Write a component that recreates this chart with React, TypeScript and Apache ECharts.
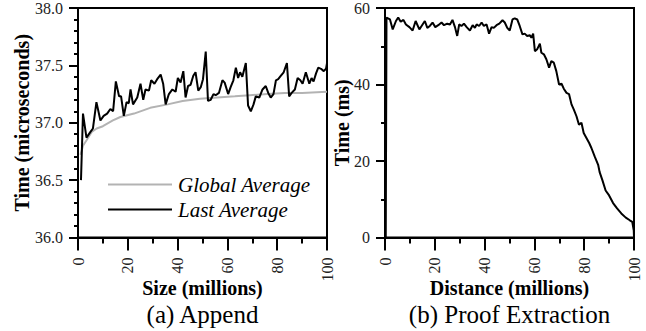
import React, { useEffect, useRef } from "react";
import * as echarts from "echarts";

const lastAvgX = [1.2, 2.0, 3.4, 5.0, 6.0, 7.4, 9.0, 10.3, 11.7, 13.0, 14.1, 15.2, 16.5, 17.3, 18.4, 19.5, 20.4, 21.1, 22.1, 23.8, 25.1, 26.2, 27.1, 28.5, 29.4, 30.7, 31.8, 33.2, 34.2, 35.2, 36.5, 37.9, 39.2, 40.1, 41.2, 42.3, 43.2, 44.2, 45.2, 46.3, 47.2, 48.3, 49.3, 50.2, 51.3, 52.2, 53.3, 54.4, 55.3, 56.6, 58.0, 58.9, 60.3, 61.3, 62.4, 63.4, 64.3, 65.1, 66.0, 67.4, 68.3, 69.4, 70.5, 71.4, 72.8, 74.1, 75.4, 76.4, 77.4, 78.5, 79.5, 80.4, 81.5, 82.6, 83.9, 84.8, 85.8, 87.1, 88.2, 89.3, 90.2, 91.5, 92.9, 93.8, 94.6, 95.6, 96.5, 97.6, 98.7, 99.6, 100];
const lastAvgY = [36.5, 37.08, 36.87, 36.92, 36.95, 37.18, 37.02, 37.06, 37.08, 37.12, 37.1, 37.36, 37.23, 37.23, 37.06, 37.18, 37.17, 37.29, 37.16, 37.22, 37.34, 37.2, 37.29, 37.28, 37.37, 37.34, 37.38, 37.42, 37.34, 37.16, 37.25, 37.29, 37.27, 37.39, 37.35, 37.45, 37.22, 37.32, 37.33, 37.41, 37.44, 37.28, 37.31, 37.38, 37.62, 37.19, 37.2, 37.25, 37.24, 37.26, 37.37, 37.35, 37.25, 37.31, 37.37, 37.48, 37.39, 37.44, 37.4, 37.52, 37.15, 37.1, 37.16, 37.23, 37.22, 37.29, 37.32, 37.26, 37.22, 37.25, 37.37, 37.38, 37.41, 37.44, 37.52, 37.23, 37.26, 37.29, 37.39, 37.37, 37.34, 37.44, 37.34, 37.39, 37.36, 37.43, 37.48, 37.47, 37.45, 37.47, 37.52];

const globalAvgX = [1.0, 2.0, 3.5, 5.5, 7.5, 10, 14, 17, 22.5, 29, 36, 42, 49, 56, 63, 69, 76, 83, 90, 100];
const globalAvgY = [36.72, 36.8, 36.85, 36.92, 36.95, 36.97, 37.02, 37.05, 37.08, 37.13, 37.16, 37.19, 37.21, 37.22, 37.23, 37.24, 37.25, 37.26, 37.26, 37.27];

const proofX = [0.3, 0.6, 2.0, 3.1, 4.4, 5.3, 6.3, 7.4, 8.4, 9.8, 11.1, 12.3, 13.8, 14.7, 16.0, 17.0, 18.0, 19.1, 20.2, 21.4, 22.7, 23.7, 25.0, 26.1, 27.1, 28.1, 29.0, 29.8, 30.7, 31.7, 32.8, 34.1, 35.2, 36.1, 36.8, 37.8, 38.8, 39.7, 40.8, 41.8, 42.8, 43.7, 44.8, 45.9, 47.2, 48.1, 49.1, 50.1, 51.2, 52.1, 53.1, 54.1, 55.2, 56.1, 57.1, 58.2, 58.8, 59.5, 60.2, 61.1, 62.2, 62.8, 63.8, 64.8, 65.9, 66.8, 67.8, 68.8, 69.9, 70.9, 71.8, 72.9, 73.9, 74.9, 75.8, 76.9, 77.9, 78.9, 79.8, 80.9, 82.0, 82.9, 84.2, 85.6, 86.2, 87.3, 88.6, 90.0, 91.6, 93.2, 94.9, 96.7, 98.3, 99.3, 99.9, 100];
const proofY = [0, 57.5, 57, 54.4, 56.6, 57.5, 56.4, 56.9, 55.7, 55, 54.1, 56.6, 54.4, 55.3, 56.6, 54.8, 55.3, 56.2, 55, 55.5, 56.2, 55.5, 55.9, 55.7, 56.9, 55, 52.7, 55.7, 55.3, 55.9, 55, 54.1, 55.5, 54.8, 55.7, 55.3, 56.2, 55.3, 55.7, 53.3, 55, 54.8, 55.5, 55.9, 56.8, 56.2, 54.8, 54.1, 57, 57.3, 57, 55.3, 53.1, 53.3, 52.7, 52.9, 52.2, 53.3, 48.7, 49.2, 50.7, 48.3, 47.9, 46.6, 44.4, 46.1, 45.7, 43.5, 40, 40.2, 38.9, 37.8, 37.5, 34.8, 33.5, 31.7, 29.5, 30, 27.3, 26, 24.7, 23.4, 21.2, 19, 17.1, 15, 12.3, 11, 9, 7.6, 6.3, 5.2, 4.5, 4.1, 1.9, 0];

const xTicks = [0, 20, 40, 60, 80, 100];
const leftYTicks = [36.0, 36.5, 37.0, 37.5, 38.0];
const rightYTicks = [0, 20, 40, 60];

const FONT = "Liberation Serif";

function pairs(xs: number[], ys: number[]) {
  return xs.map((x, i) => [x, ys[i]]);
}

function xAxis(gridIndex: number, name: string) {
  return {
    type: "value",
    gridIndex,
    min: xTicks[0],
    max: xTicks[xTicks.length - 1],
    interval: 20,
    name,
    nameLocation: "middle",
    nameGap: 40,
    nameMoveOverlap: false,
    nameTextStyle: { fontFamily: FONT, fontWeight: "bold", fontSize: 20, color: "#000" },
    axisLine: { show: true, lineStyle: { color: "#000", width: 2 } },
    axisTick: { show: true, length: 13, lineStyle: { color: "#000", width: 2 } },
    minorTick: { show: true, splitNumber: 2, length: 6, lineStyle: { color: "#000", width: 2 } },
    axisLabel: { rotate: 90, margin: 20, fontFamily: FONT, fontSize: 16, color: "#222" },
    splitLine: { show: false },
    minorSplitLine: { show: false },
  };
}

function yAxis(gridIndex: number, name: string, ticks: number[], interval: number, minorSplit: number, nameGap: number, digits: number) {
  return {
    type: "value",
    gridIndex,
    min: ticks[0],
    max: ticks[ticks.length - 1],
    interval,
    name,
    nameLocation: "middle",
    nameGap,
    nameMoveOverlap: false,
    nameTextStyle: { fontFamily: FONT, fontWeight: "bold", fontSize: 20, color: "#000" },
    axisLine: { show: true, lineStyle: { color: "#000", width: 2 } },
    axisTick: { show: true, length: 9, lineStyle: { color: "#000", width: 2 } },
    minorTick: { show: true, splitNumber: minorSplit, length: 4, lineStyle: { color: "#000", width: 2 } },
    axisLabel: {
      margin: 15,
      fontFamily: FONT,
      fontSize: 16,
      color: "#222",
      formatter: (v: number) => v.toFixed(digits),
    },
    splitLine: { show: false },
    minorSplitLine: { show: false },
  };
}

export default function App() {
  const ref = useRef<HTMLDivElement>(null);
  useEffect(() => {
    if (!ref.current) return;
    const chart = echarts.init(ref.current, undefined, { renderer: "svg" });
    chart.setOption({
      animation: false,
      backgroundColor: "#fff",
      textStyle: { fontFamily: FONT },
      grid: [
        { left: 78, top: 7, width: 249, height: 230.5, show: true, borderColor: "#000", borderWidth: 2, backgroundColor: "transparent" },
        { left: 385, top: 7, width: 249, height: 230.5, show: true, borderColor: "#000", borderWidth: 2, backgroundColor: "transparent" },
      ],
      xAxis: [xAxis(0, "Size (millions)"), xAxis(1, "Distance (millions)")],
      yAxis: [
        yAxis(0, "Time (microseconds)", leftYTicks, 0.5, 5, 46, 1),
        yAxis(1, "Time (ms)", rightYTicks, 20, 2, 33, 0),
      ],
      legend: {
        show: true,
        orient: "vertical",
        left: 103,
        top: 167,
        itemWidth: 64,
        itemHeight: 2,
        itemGap: 0,
        icon: "rect",
        data: ["Global Average", "Last Average"],
        textStyle: { fontFamily: FONT, fontStyle: "italic", fontSize: 21, color: "#000", lineHeight: 25, padding: [0, 0, 0, 1] },
      },
      series: [
        {
          name: "Global Average",
          type: "line",
          xAxisIndex: 0,
          yAxisIndex: 0,
          data: pairs(globalAvgX, globalAvgY),
          showSymbol: false,
          symbol: "none",
          lineStyle: { color: "#b3b3b3", width: 2 },
          itemStyle: { color: "#b3b3b3" },
        },
        {
          name: "Last Average",
          type: "line",
          xAxisIndex: 0,
          yAxisIndex: 0,
          data: pairs(lastAvgX, lastAvgY),
          showSymbol: false,
          symbol: "none",
          lineStyle: { color: "#000", width: 2 },
          itemStyle: { color: "#000" },
        },
        {
          name: "Proof Extraction",
          type: "line",
          xAxisIndex: 1,
          yAxisIndex: 1,
          data: pairs(proofX, proofY),
          showSymbol: false,
          symbol: "none",
          lineStyle: { color: "#000", width: 2 },
          itemStyle: { color: "#000" },
        },
      ],
      graphic: [
        {
          type: "text",
          x: 202.5,
          y: 314,
          style: { text: "(a) Append", fontFamily: FONT, fontSize: 25, fill: "#000", textAlign: "center", textVerticalAlign: "middle" },
        },
        {
          type: "text",
          x: 509.5,
          y: 314,
          style: { text: "(b) Proof Extraction", fontFamily: FONT, fontSize: 25, fill: "#000", textAlign: "center", textVerticalAlign: "middle" },
        },
      ],
    });
    return () => chart.dispose();
  }, []);
  return <div ref={ref} style={{ position: "fixed", left: 0, top: 0, width: 646, height: 331 }} />;
}
